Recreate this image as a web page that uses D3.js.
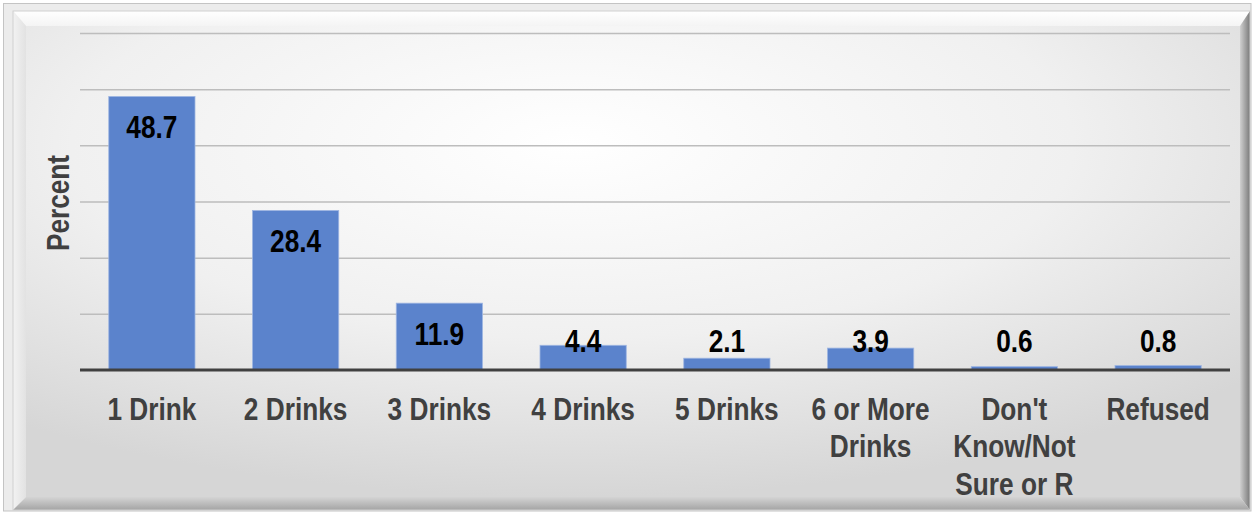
<!DOCTYPE html>
<html>
<head>
<meta charset="utf-8">
<script src="https://cdn.jsdelivr.net/npm/d3@7"></script>
<style>
  html, body { margin: 0; padding: 0; background: #ffffff; }
  svg { display: block; }
</style>
</head>
<body>
<svg id="chart" width="1255" height="514"></svg>
<script>
// ---- data ----
const categories = ["1 Drink", "2 Drinks", "3 Drinks", "4 Drinks", "5 Drinks", "6 or More\nDrinks", "Don't\nKnow/Not\nSure or R", "Refused"];
const values = [48.7, 28.4, 11.9, 4.4, 2.1, 3.9, 0.6, 0.8];
const valueLabels = ["48.7", "28.4", "11.9", "4.4", "2.1", "3.9", "0.6", "0.8"];
const yTicks = [0, 10, 20, 30, 40, 50, 60];
const yAxisTitle = "Percent";

const W = 1255, H = 514;
const svg = d3.select("#chart");
const defs = svg.append("defs");

// font detection: narrow available?
const FONT_NARROW = "'Liberation Sans Narrow', 'Arial Narrow'";
function measure(family) {
  const t = svg.append("text").attr("font-family", family).attr("font-weight", "bold")
    .attr("font-size", 32).text("2 Drinks 28.4");
  const w = t.node().getComputedTextLength();
  t.remove();
  return w;
}
const wN = measure("'Liberation Sans Narrow', 'Liberation Sans'");
const wS = measure("'Liberation Sans'");
const hasNarrow = wN < wS * 0.95;
const family = hasNarrow ? "'Liberation Sans Narrow', 'Liberation Sans', Arial" : "'Liberation Sans', Arial, sans-serif";
const sx = hasNarrow ? 1 : 0.82;

// ---- frame / background ----
const bg = defs.append("radialGradient").attr("id", "bg")
  .attr("cx", "45%").attr("cy", "25%").attr("r", "75%")
  .attr("gradientUnits", "objectBoundingBox");
bg.append("stop").attr("offset", "0%").attr("stop-color", "#ffffff");
bg.append("stop").attr("offset", "55%").attr("stop-color", "#f0f0f0");
bg.append("stop").attr("offset", "100%").attr("stop-color", "#d6d6d6");

const gRight = defs.append("linearGradient").attr("id", "gRight").attr("x1", "0").attr("x2", "1").attr("y1", "0").attr("y2", "0");
gRight.append("stop").attr("offset", "0%").attr("stop-color", "#d0d0d0");
gRight.append("stop").attr("offset", "100%").attr("stop-color", "#7a7a7a");
const gBottom = defs.append("linearGradient").attr("id", "gBottom").attr("x1", "0").attr("x2", "0").attr("y1", "0").attr("y2", "1");
gBottom.append("stop").attr("offset", "0%").attr("stop-color", "#d4d4d4");
gBottom.append("stop").attr("offset", "100%").attr("stop-color", "#a4a4a4");
const gTop = defs.append("linearGradient").attr("id", "gTop").attr("x1", "0").attr("x2", "0").attr("y1", "0").attr("y2", "1");
gTop.append("stop").attr("offset", "0%").attr("stop-color", "#ffffff");
gTop.append("stop").attr("offset", "100%").attr("stop-color", "#f4f4f4");
const gLeft = defs.append("linearGradient").attr("id", "gLeft").attr("x1", "0").attr("x2", "1").attr("y1", "0").attr("y2", "0");
gLeft.append("stop").attr("offset", "0%").attr("stop-color", "#f2f2f2");
gLeft.append("stop").attr("offset", "100%").attr("stop-color", "#e2e2e2");

// outer thin frame
svg.append("rect").attr("x", 3.5).attr("y", 3.5).attr("width", 1247.5).attr("height", 507.5)
  .attr("fill", "#ececec").attr("stroke", "#c4c4c4").attr("stroke-width", 1);

const ox0 = 13, oy0 = 11, ox1 = 1250, oy1 = 510;
const ix0 = 26, iy0 = 26, ix1 = 1240, iy1 = 497;
const poly = pts => pts.map(p => p.join(",")).join(" ");
svg.append("polygon").attr("points", poly([[ox0, oy0], [ox1, oy0], [ix1, iy0], [ix0, iy0]])).attr("fill", "url(#gTop)");
svg.append("polygon").attr("points", poly([[ox0, oy0], [ix0, iy0], [ix0, iy1], [ox0, oy1]])).attr("fill", "url(#gLeft)");
svg.append("polygon").attr("points", poly([[ox1, oy0], [ox1, oy1], [ix1, iy1], [ix1, iy0]])).attr("fill", "url(#gRight)");
svg.append("polygon").attr("points", poly([[ox0, oy1], [ix0, iy1], [ix1, iy1], [ox1, oy1]])).attr("fill", "url(#gBottom)");
svg.append("rect").attr("x", ox0).attr("y", oy0).attr("width", ox1 - ox0).attr("height", oy1 - oy0)
  .attr("fill", "none").attr("stroke", "#cfcfcf").attr("stroke-width", 1);
svg.append("rect").attr("x", ix0).attr("y", iy0).attr("width", ix1 - ix0).attr("height", iy1 - iy0)
  .attr("fill", "url(#bg)");

// ---- scales ----
const plot = { left: 80, right: 1230, top: 33, bottom: 370 };
const x = d3.scaleBand().domain(categories).range([plot.left, plot.right])
  .paddingInner(0.4).paddingOuter(0.2);
const y = d3.scaleLinear().domain([0, 60]).range([plot.bottom, plot.top]);

// gridlines
const grid = svg.append("g").attr("transform", `translate(${plot.left},0)`)
  .call(d3.axisLeft(y).tickValues(yTicks.filter(v => v > 0)).tickSize(-(plot.right - plot.left)).tickFormat(""));
grid.select(".domain").remove();
grid.selectAll(".tick line").attr("stroke", "#bdbdbd").attr("stroke-width", 1.5);

// bars
svg.append("g").selectAll("rect").data(values).join("rect")
  .attr("x", (d, i) => x(categories[i]))
  .attr("width", x.bandwidth())
  .attr("y", d => y(d))
  .attr("height", d => y(0) - y(d))
  .attr("fill", "#5b83cc")
  .attr("stroke", "#9fb6e2")
  .attr("stroke-width", 0.8);

// x axis
const xAxis = svg.append("g").attr("transform", `translate(0,${y(0)})`)
  .call(d3.axisBottom(x).tickSize(0).tickFormat(""));
xAxis.select(".domain").attr("stroke", "#404040").attr("stroke-width", 3)
  .attr("d", `M${plot.left},0H${plot.right}`);
xAxis.selectAll(".tick").each(function(d) {
  const lines = d.split("\n");
  const t = d3.select(this).append("text")
    .attr("font-family", family).attr("font-weight", "bold").attr("font-size", 32)
    .attr("fill", "#404040").attr("text-anchor", "middle")
    .attr("transform", `scale(${sx},1)`);
  lines.forEach((ln, k) => {
    t.append("tspan").attr("x", 0).attr("y", 50 + k * 37.5).text(ln);
  });
});

// value labels
svg.append("g").selectAll("text").data(values).join("text")
  .attr("font-family", family).attr("font-weight", "bold").attr("font-size", 32)
  .attr("fill", "#000000").attr("text-anchor", "middle")
  .attr("transform", (d, i) => {
    const cx = x(categories[i]) + x.bandwidth() / 2;
    const by = Math.min(y(d) + 42, y(0) - 18);
    return `translate(${cx},${by}) scale(${sx},1)`;
  })
  .text((d, i) => valueLabels[i]);

// y axis title
svg.append("text")
  .attr("font-family", family).attr("font-weight", "bold").attr("font-size", 32)
  .attr("fill", "#404040").attr("text-anchor", "middle")
  .attr("transform", `translate(69,203) rotate(-90) scale(${sx},1)`)
  .text(yAxisTitle);
</script>
</body>
</html>
